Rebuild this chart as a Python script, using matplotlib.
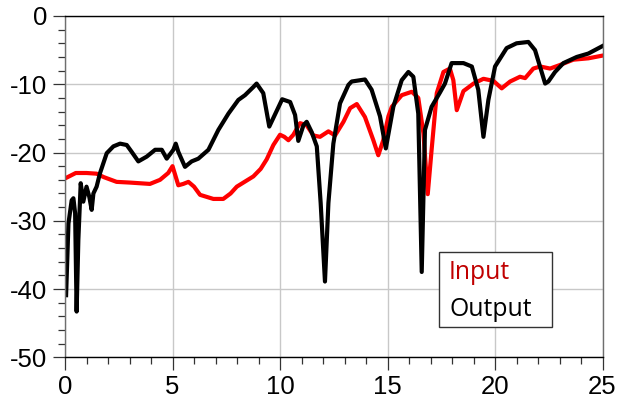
import matplotlib
matplotlib.use("Agg")
import matplotlib.pyplot as plt
from matplotlib.patches import Rectangle
from matplotlib.ticker import MultipleLocator

# Input trace (red)
input_x = [0.0, 0.5, 1.0, 1.47, 1.8, 2.4, 3.0, 3.95, 4.42, 4.8, 5.0, 5.27, 5.5, 5.74,
           6.0, 6.28, 6.9, 7.36, 7.7, 7.99, 8.4, 8.76, 9.1, 9.38, 9.69, 10.0, 10.2,
           10.39, 10.62, 10.93, 11.24, 11.55, 11.86, 12.25, 12.56, 12.95, 13.26, 13.57,
           13.95, 14.34, 14.57, 14.8, 15.04, 15.2, 15.66, 16.13, 16.43, 16.67, 16.87,
           17.05, 17.29, 17.6, 17.9, 18.06, 18.22, 18.53, 19.0, 19.46, 19.92, 20.31,
           20.7, 21.16, 21.4, 21.78, 22.1, 22.56, 23.0, 23.64, 24.34, 25.0]
input_y = [-23.8, -23.0, -23.0, -23.1, -23.6, -24.3, -24.4, -24.6, -24.0, -23.0, -22.0,
           -24.8, -24.6, -24.3, -25.0, -26.2, -26.8, -26.8, -26.0, -25.0, -24.2, -23.5,
           -22.4, -21.0, -18.9, -17.4, -17.7, -18.2, -17.4, -15.7, -16.0, -17.5, -17.7,
           -16.9, -17.5, -15.5, -13.5, -12.9, -14.8, -18.2, -20.4, -18.2, -14.7, -13.3,
           -11.6, -11.1, -12.0, -17.2, -26.1, -19.6, -11.3, -8.2, -7.7, -9.4, -13.8,
           -11.0, -9.9, -9.2, -9.5, -10.6, -9.6, -8.9, -9.1, -7.7, -7.4, -7.7, -7.2,
           -6.4, -6.2, -5.8]

# Output trace (black)
output_x = [0.05, 0.16, 0.31, 0.39, 0.47, 0.54, 0.62, 0.73, 0.85, 1.0, 1.13, 1.24, 1.32,
            1.47, 1.63, 1.94, 2.25, 2.56, 2.87, 3.1, 3.41, 3.8, 4.19, 4.5, 4.73, 5.04,
            5.15, 5.27, 5.58, 5.89, 6.2, 6.67, 7.13, 7.6, 8.06, 8.37, 8.76, 8.91, 9.22,
            9.5, 9.77, 10.1, 10.47, 10.7, 10.85, 11.09, 11.24, 11.47, 11.71, 11.89, 12.09,
            12.25, 12.48, 12.79, 13.18, 13.33, 13.95, 14.26, 14.65, 14.92, 15.27, 15.66,
            15.97, 16.2, 16.43, 16.59, 16.74, 17.05, 17.44, 17.67, 17.98, 18.53, 18.92,
            19.22, 19.46, 19.69, 20.0, 20.54, 21.0, 21.55, 21.86, 22.1, 22.33, 22.48,
            22.79, 23.18, 23.8, 24.34, 24.88, 25.0]
output_y = [-40.9, -30.4, -27.0, -26.7, -28.9, -43.3, -32.8, -24.5, -27.2, -25.0, -26.5,
            -28.4, -26.0, -25.0, -23.0, -20.1, -19.1, -18.7, -18.9, -19.9, -21.3, -20.6,
            -19.6, -19.6, -20.9, -19.6, -18.7, -19.9, -22.1, -21.3, -20.9, -19.6, -16.7,
            -14.3, -12.3, -11.6, -10.4, -9.9, -11.3, -16.2, -14.4, -12.2, -12.6, -14.5,
            -18.3, -16.0, -15.5, -17.0, -19.1, -27.4, -38.9, -27.4, -18.7, -12.8, -10.1,
            -9.6, -9.3, -10.8, -14.7, -19.4, -13.3, -9.4, -8.2, -8.9, -14.3, -37.5, -16.7,
            -13.3, -11.2, -9.9, -6.9, -6.9, -7.4, -10.8, -17.7, -12.3, -7.4, -4.7, -4.0,
            -3.8, -5.0, -7.5, -9.9, -9.6, -8.2, -6.9, -6.0, -5.5, -4.6, -4.4]

labels = ["Input", "Output"]
label_colors = ["#c00000", "black"]

plt.rcParams['axes.unicode_minus'] = False
plt.rcParams['font.family'] = ['Liberation Sans', 'DejaVu Sans']

fig = plt.figure(figsize=(6.18, 4.04), dpi=100)
ax = fig.add_axes([0.1052, 0.1156, 0.8698, 0.8448])

ax.plot(input_x, input_y, color='#ff0000', lw=3.0, solid_joinstyle='round')
ax.plot(output_x, output_y, color='black', lw=3.0, solid_joinstyle='round')

ax.set_xlim(0, 25)
ax.set_ylim(-50, 0)
ax.xaxis.set_major_locator(MultipleLocator(5))
ax.xaxis.set_minor_locator(MultipleLocator(1))
ax.yaxis.set_major_locator(MultipleLocator(10))
ax.yaxis.set_minor_locator(MultipleLocator(2))

ax.grid(which='major', color='#c8c8c8', lw=1.0)
ax.set_axisbelow(True)

ax.tick_params(which='major', direction='out', length=9, width=0.9, color='#333333',
               labelsize=18.5, pad=4)
ax.tick_params(which='minor', direction='out', length=5, width=0.9, color='#333333')

for side in ['left', 'right']:
    ax.spines[side].set_color('#6e6e6e')
for side in ['top', 'bottom']:
    ax.spines[side].set_color('black')
for s in ax.spines.values():
    s.set_linewidth(1.0)

# key box with coloured labels, no line samples
ax.add_patch(Rectangle((0.696, 0.089), 0.21, 0.22, transform=ax.transAxes,
                       facecolor='white', edgecolor='#333333', lw=1.0, zorder=5))
for i, (lab, c) in enumerate(zip(labels, label_colors)):
    ax.text(0.7144, 0.229 - i * 0.108, lab, transform=ax.transAxes, color=c,
            family='Open Sans', fontsize=17.8, ha='left', va='baseline', zorder=6)

fig.savefig('out.png', dpi=100)
